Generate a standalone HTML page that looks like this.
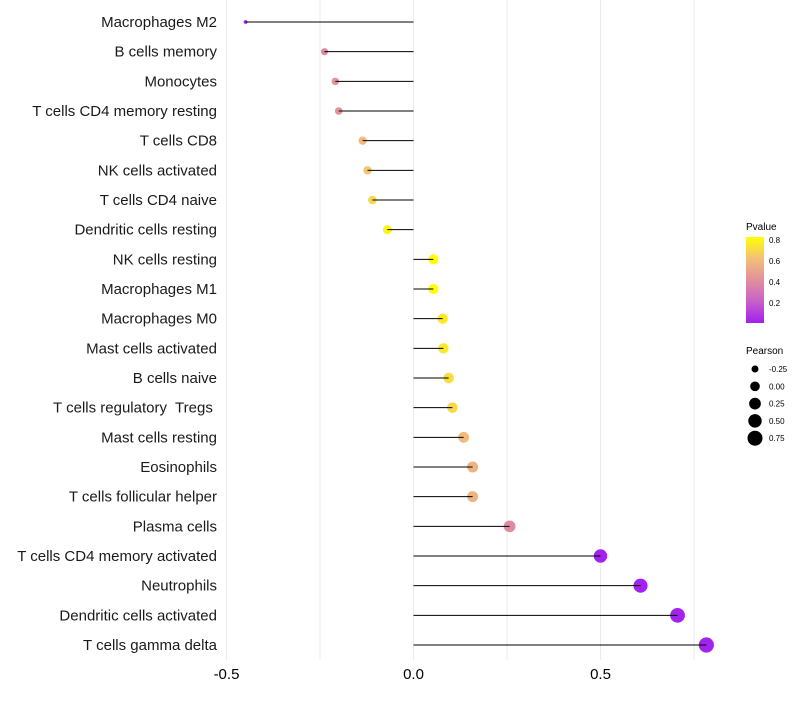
<!DOCTYPE html>
<html><head><meta charset="utf-8"><style>
body{margin:0;background:#fff;font-family:"Liberation Sans",sans-serif}
svg text{font-family:"Liberation Sans",sans-serif;white-space:pre}
</style></head><body>
<svg id="chart" width="800" height="700" xmlns="http://www.w3.org/2000/svg">
<defs><linearGradient id="pg" x1="0" y1="1" x2="0" y2="0">
<stop offset="0" stop-color="#A020F0"/><stop offset="0.25" stop-color="#C860C8"/><stop offset="0.5" stop-color="#E0909C"/><stop offset="0.75" stop-color="#F3C078"/><stop offset="1" stop-color="#FFFF00"/></linearGradient></defs>
<g id="grid"></g>
<g id="points"></g>
<g id="marks"></g>
<g id="ylab"></g>
<g id="xlab"></g>
<g>
<text x="746" y="230" font-size="10">Pvalue</text>
<rect x="746" y="237" width="18" height="86" fill="url(#pg)"/>
<g id="cbticks"></g>
</g>
<g id="sizeleg">
<text x="746" y="354" font-size="10">Pearson</text>
</g>
</svg>
<script>
const categories=["Macrophages M2","B cells memory","Monocytes","T cells CD4 memory resting","T cells CD8","NK cells activated","T cells CD4 naive","Dendritic cells resting","NK cells resting","Macrophages M1","Macrophages M0","Mast cells activated","B cells naive","T cells regulatory  Tregs ","Mast cells resting","Eosinophils","T cells follicular helper","Plasma cells","T cells CD4 memory activated","Neutrophils","Dendritic cells activated","T cells gamma delta"];
const pearson=[-0.449,-0.238,-0.209,-0.2,-0.136,-0.123,-0.11,-0.07,0.053,0.053,0.078,0.08,0.094,0.104,0.134,0.158,0.158,0.257,0.5,0.607,0.706,0.783];
const pvalue=[0.03,0.4,0.44,0.44,0.6,0.64,0.7,0.8,0.83,0.83,0.76,0.76,0.72,0.7,0.6,0.57,0.57,0.4,0.02,0.02,0.02,0.02];
const xTicks=[-0.5,0,0.5];
const xTickLabels=["-0.5","0.0","0.5"];
const xMinor=[-0.25,0.25,0.75];
const cbTicks=[0.2,0.4,0.6,0.8];
const sizeLegend=[-0.25,0,0.25,0.5,0.75];
const NS="http://www.w3.org/2000/svg";
const X=v=>413.5+v*374;
const Y=i=>22+i*(623/21);
const R=v=>Math.sqrt(Math.max(1,23.25+44*v));
const stops=[[160,32,240],[200,96,200],[224,144,156],[243,192,120],[255,255,0]];
function col(p){let t=(p-0.01)/(0.83-0.01);t=Math.max(0,Math.min(1,t))*4;let i=Math.min(3,Math.floor(t)),f=t-i;const a=stops[i],b=stops[i+1];return `rgb(${a.map((c,k)=>Math.round(c+(b[k]-c)*f)).join(',')})`;}
function mk(tag,attrs,parent){const e=document.createElementNS(NS,tag);for(const k in attrs)e.setAttribute(k,attrs[k]);parent.appendChild(e);return e;}
const grid=document.getElementById('grid');
xTicks.concat(xMinor).forEach(v=>{const l=mk('line',{x1:X(v),x2:X(v),y1:0,y2:660,stroke:'#ebebeb','stroke-width':1},grid);

});
const xl=document.getElementById('xlab');
xTicks.forEach((v,i)=>{const t=mk('text',{x:X(v),y:679,'font-size':15,'text-anchor':'middle',fill:'#000'},xl);t.textContent=xTickLabels[i];

});
const marks=document.getElementById('marks'),pts=document.getElementById('points'),yl=document.getElementById('ylab');
categories.forEach((c,i)=>{
const p=mk('circle',{cx:X(pearson[i]),cy:Y(i),r:R(pearson[i]),fill:col(pvalue[i])},pts);


const l=mk('line',{x1:X(0),x2:X(pearson[i]),y1:Y(i),y2:Y(i),stroke:'#000','stroke-width':1},marks);


const t=mk('text',{x:217,y:Y(i)+5,'font-size':15,'text-anchor':'end',fill:'#1a1a1a'},yl);t.textContent=c;


});
const cb=document.getElementById('cbticks');
cbTicks.forEach(v=>{const y=323-(v-0.01)/(0.83-0.01)*86;
const t=mk('text',{x:769,y:y+3,'font-size':8},cb);t.textContent=v.toFixed(1);

});
const sl=document.getElementById('sizeleg');
sizeLegend.forEach((v,i)=>{const y=369+i*17.3;
const c=mk('circle',{cx:755,cy:y,r:R(v)},sl);


const t=mk('text',{x:769,y:y+3,'font-size':8},sl);t.textContent=v.toFixed(2);

});
</script>
</body></html>
